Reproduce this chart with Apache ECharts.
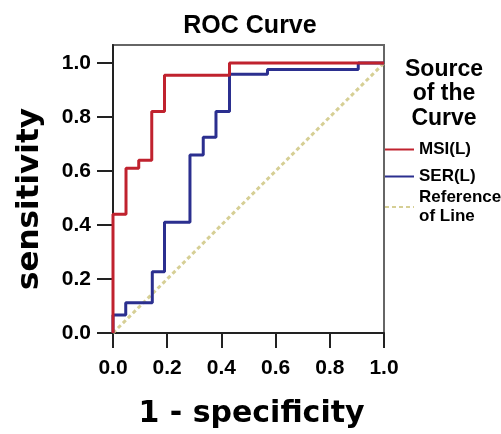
<!DOCTYPE html>
<html>
<head>
<meta charset="utf-8">
<style>
    html, body { margin: 0; padding: 0; background: #fff; }
    #container { width: 501px; height: 434px; }
</style>
<script src="https://cdn.jsdelivr.net/npm/echarts@6/dist/echarts.min.js"></script>
</head>
<body>
<div id="container"></div>
<script>
// MSI(L) curve
var msiFpr = [0, 0, 0.048, 0.048, 0.095, 0.095, 0.143, 0.143, 0.19, 0.19, 0.43, 0.43, 1];
var msiTpr = [0, 0.44, 0.44, 0.61, 0.61, 0.64, 0.64, 0.82, 0.82, 0.955, 0.955, 1, 1];

// SER(L) curve
var serFpr = [0, 0, 0.047, 0.047, 0.145, 0.145, 0.19, 0.19, 0.284, 0.284, 0.333, 0.333, 0.38, 0.38, 0.43, 0.43, 0.57, 0.57, 0.905, 0.905, 1];
var serTpr = [0, 0.067, 0.067, 0.112, 0.112, 0.227, 0.227, 0.41, 0.41, 0.659, 0.659, 0.725, 0.725, 0.82, 0.82, 0.958, 0.958, 0.976, 0.976, 1, 1];

// reference (diagonal)
var refFpr = [0, 1];
var refTpr = [0, 1];

var tickValues = [0, 0.2, 0.4, 0.6, 0.8, 1.0];

function pairs(xs, ys) {
    var out = [];
    for (var i = 0; i < xs.length; i++) {
        out.push([xs[i], ys[i]]);
    }
    return out;
}

var font = 'Liberation Sans';
var wideFont = 'DejaVu Sans';

var dom = document.getElementById('container');
var myChart = echarts.init(dom, null, {
    renderer: 'canvas',
    useDirtyRect: false
});

var option;

option = {
    backgroundColor: '#fff',
    animation: false,
    title: [
        {
            text: 'ROC Curve',
            left: 250,
            top: 14,
            padding: 0,
            textAlign: 'center',
            textStyle: { fontFamily: font, fontWeight: 'bold', fontSize: 25, color: '#000' }
        },
        {
            text: 'Source\nof the\nCurve',
            left: 444,
            top: 57,
            padding: 0,
            textAlign: 'center',
            textStyle: { fontFamily: font, fontWeight: 'bold', fontSize: 23, lineHeight: 24.5, color: '#000' }
        }
    ],
    legend: [
        {
            data: ['MSI(L)', 'SER(L)'],
            orient: 'vertical',
            left: 384,
            top: 141,
            padding: 0,
            itemWidth: 29,
            itemHeight: 10,
            itemGap: 10,
            selectedMode: false,
            itemStyle: { color: 'rgba(0,0,0,0)', borderColor: 'rgba(0,0,0,0)', borderWidth: 0 },
            textStyle: { fontFamily: font, fontWeight: 'bold', fontSize: 17, lineHeight: 17, color: '#000' }
        },
        {
            data: ['Reference of Line'],
            orient: 'vertical',
            left: 384,
            top: 188,
            padding: 0,
            itemWidth: 29,
            itemHeight: 10,
            selectedMode: false,
            itemStyle: { color: 'rgba(0,0,0,0)', borderColor: 'rgba(0,0,0,0)', borderWidth: 0 },
            formatter: function (name) { return name.replace(' of ', '\nof '); },
            textStyle: { fontFamily: font, fontWeight: 'bold', fontSize: 17, lineHeight: 19, color: '#000' }
        }
    ],
    grid: {
        left: 113,
        right: 117,
        top: 45,
        bottom: 101,
        show: true,
        borderColor: '#666',
        borderWidth: 2
    },
    xAxis: {
        type: 'value',
        min: 0,
        max: 1,
        name: '1 - specificity',
        nameLocation: 'middle',
        nameGap: 66,
        nameTextStyle: { fontFamily: wideFont, fontWeight: 'bold', fontSize: 30, color: '#000', padding: [0, 0, 0, 6] },
        axisLine: { lineStyle: { color: '#222', width: 2 } },
        axisTick: { show: true, length: 15, lineStyle: { color: '#222', width: 2 }, customValues: tickValues },
        axisLabel: {
            margin: 25,
            customValues: tickValues,
            formatter: function (v) { return v.toFixed(1); },
            fontFamily: font, fontWeight: 'bold', fontSize: 21, color: '#000'
        },
        splitLine: { show: false }
    },
    yAxis: {
        type: 'value',
        min: 0,
        max: 1.0667,
        name: 'sensitivity',
        nameLocation: 'middle',
        nameGap: 68,
        nameTextStyle: { fontFamily: wideFont, fontWeight: 'bold', fontSize: 31, color: '#000', padding: [0, 20, 0, 0] },
        axisLine: { show: true, lineStyle: { color: '#222', width: 2 } },
        axisTick: { show: true, length: 16, lineStyle: { color: '#222', width: 2 }, customValues: tickValues },
        axisLabel: {
            margin: 22,
            customValues: tickValues,
            formatter: function (v) { return v.toFixed(1); },
            fontFamily: font, fontWeight: 'bold', fontSize: 21, color: '#000'
        },
        splitLine: { show: false }
    },
    series: [
        {
            name: 'MSI(L)',
            type: 'line',
            data: pairs(msiFpr, msiTpr),
            symbol: 'none',
            z: 4,
            lineStyle: { color: '#c0222e', width: 3 },
            itemStyle: { color: '#c0222e' }
        },
        {
            name: 'SER(L)',
            type: 'line',
            data: pairs(serFpr, serTpr),
            symbol: 'none',
            z: 3,
            lineStyle: { color: '#2b2f8f', width: 3 },
            itemStyle: { color: '#2b2f8f' }
        },
        {
            name: 'Reference of Line',
            type: 'line',
            data: pairs(refFpr, refTpr),
            symbol: 'none',
            z: 2,
            lineStyle: { color: '#d6cf95', width: 3, type: [4, 3] },
            itemStyle: { color: '#d6cf95' }
        }
    ]
};

if (option && typeof option === 'object') {
    myChart.setOption(option);
}

window.addEventListener('resize', myChart.resize);
</script>
</body>
</html>
